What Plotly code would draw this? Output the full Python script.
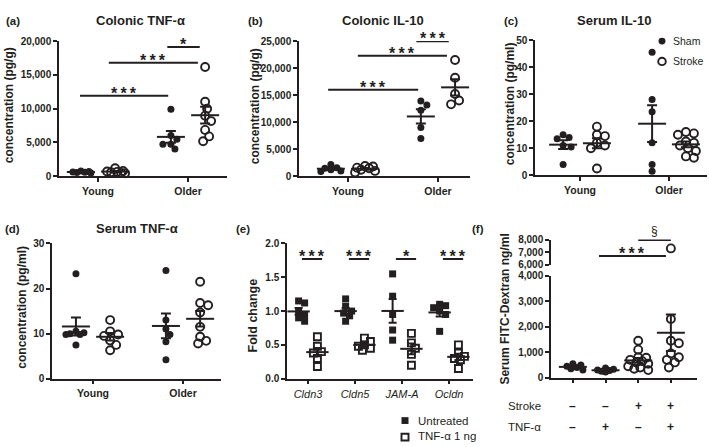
import numpy as np
import plotly.graph_objects as go

W, H = 709, 447
INK = "#231f20"
FONT = "Liberation Sans, Arial, sans-serif"

# ---------------- data ----------------
age_groups = ["Young", "Older"]

# (a) Colonic TNF-alpha, pg/g  [Young, Older]
a_sham = [[800, 720, 650, 600, 550, 500],
          [9930, 6040, 5470, 4750, 4750, 4030]]
a_stroke = [[1200, 800, 700, 650, 600, 500, 450],
            [16160, 11030, 10000, 8970, 8160, 6860, 5900, 5180]]

# (b) Colonic IL-10, pg/g
b_sham = [[2200, 1600, 1500, 1200, 1000, 900],
          [13900, 13200, 12200, 9000, 7000]]
b_stroke = [[1900, 1800, 1600, 1500, 1200, 1000, 700],
            [21500, 18200, 15200, 14000, 13300]]

# (c) Serum IL-10, pg/ml
c_sham = [[15, 14, 13.5, 11, 10.5, 4],
          [45.5, 28, 23.5, 12, 4, 1.5]]
c_stroke = [[18, 15, 14.5, 12, 11, 10, 2.5],
            [16, 15.5, 15, 12.5, 12, 11, 10, 9, 7, 6.5]]

# (d) Serum TNF-alpha, pg/ml
d_sham = [[23.3, 10.5, 10.2, 10, 9.8, 9.8, 7.5],
          [24, 13, 11, 9.8, 8.2, 4.2]]
d_stroke = [[13, 10.5, 9.8, 9.5, 8.5, 7.5, 6.3],
            [21.5, 16.8, 16.3, 14.7, 11.5, 9.3, 8.4, 7.8]]

# (e) Fold change of tight-junction genes
e_genes = ["Cldn3", "Cldn5", "JAM-A", "Ocldn"]
e_untreated = [[1.15, 1.12, 1.0, 0.95, 0.9, 0.85],
               [1.18, 1.07, 1.0, 0.97, 0.93, 0.85],
               [1.55, 1.22, 0.95, 0.72, 0.57],
               [1.1, 1.08, 1.05, 1.0, 0.95, 0.7]]
e_tnf = [[0.62, 0.48, 0.4, 0.38, 0.3, 0.18],
         [0.6, 0.55, 0.5, 0.48, 0.45, 0.42],
         [0.67, 0.53, 0.45, 0.36, 0.2],
         [0.5, 0.38, 0.33, 0.3, 0.28, 0.15]]
e_sig = ["***", "***", "*", "***"]

# (f) Serum FITC-Dextran, ng/ml
f_stroke_signs = ["\u2013", "\u2013", "+", "+"]
f_tnf_signs = ["\u2013", "+", "\u2013", "+"]
f_values = [[550, 500, 450, 400, 350, 300],
            [380, 330, 300, 280, 250, 220],
            [1450, 1100, 800, 780, 700, 650, 600, 550, 450, 400, 350, 300],
            [7300, 2300, 1450, 1350, 950, 800, 700, 600, 400]]
f_filled = [True, True, False, False]


# ---------------- helpers ----------------
def fx(px):
    return px / W


def fy(py):
    return 1 - py / H


fig = go.Figure()
shapes = []
annotations = []


def swarm(vals, sx, sy, d, maxw):
    """Beeswarm offsets (x data units), limited to +-maxw pixels."""
    vals = np.asarray(vals, float)
    order = np.argsort(-vals)
    placed = []
    offs = np.zeros(len(vals))
    cands = [0.0]
    c = 2.0
    while c <= maxw + 1e-9:
        cands += [c, -c]
        c += 2.0
    thr = d * 0.8
    for i in order:
        yp = vals[i] * sy
        best, bestd = 0.0, -1
        chosen = None
        for cc in cands:
            md = min([np.hypot(cc - px, yp - py) for px, py in placed] or [1e9])
            if md >= thr:
                chosen = cc
                break
            if md > bestd:
                best, bestd = cc, md
        if chosen is None:
            chosen = best
        placed.append((chosen, yp))
        offs[i] = chosen / sx
    return offs


def add_group(xa, ya, xc, vals, filled, square, sx, sy, maxw=11, split=None):
    vals = np.asarray(vals, float)
    size = 7 if (square or filled) else 8
    xs = xc + swarm(vals, sx, sy, size + 1, maxw)
    if square:
        sym = "square" if filled else "square-open"
    else:
        sym = "circle" if filled else "circle-open"
    marker = dict(symbol=sym, size=size, color=INK,
                  line=dict(width=0 if filled else 1.9, color=INK))
    if split is None:
        parts = [(ya, xs, vals)]
    else:
        lo = vals <= split[0]
        parts = [(ya, xs[lo], vals[lo]), (split[1], xs[~lo], vals[~lo])]
    for pya, px_, pv in parts:
        fig.add_trace(go.Scatter(
            x=px_, y=pv, mode="markers", marker=marker, xaxis=xa, yaxis=pya,
            cliponaxis=False, hoverinfo="skip", showlegend=False))
    mean = vals.mean()
    sem = vals.std(ddof=1) / np.sqrt(len(vals))
    fig.add_trace(go.Scatter(
        x=[xc], y=[mean], mode="markers", xaxis=xa, yaxis=ya, showlegend=False,
        hoverinfo="skip", cliponaxis=False,
        marker=dict(symbol="line-ew", size=20 if not square else 16, color=INK,
                    line=dict(width=2, color=INK)),
        error_y=dict(type="data", array=[sem], symmetric=True, thickness=2,
                     width=5 if not square else 4, color=INK)))


STARS = "*\u2009*\u2009*"


def sig(xref, yref, x0, x1, y, label, size=16, yshift=-8, bold=True):
    shapes.append(dict(type="line", xref=xref, yref=yref, x0=x0, x1=x1, y0=y, y1=y,
                       line=dict(color=INK, width=2)))
    annotations.append(dict(xref=xref, yref=yref, x=(x0 + x1) / 2, y=y, text=label,
                            showarrow=False, yanchor="bottom", yshift=yshift,
                            font=dict(family=FONT, size=size, color=INK,
                                      weight="bold" if bold else "normal")))


def text(x, y, s, size=12, bold=True, angle=0, xanchor="center"):
    annotations.append(dict(xref="paper", yref="paper", x=fx(x), y=fy(y), text=s,
                            showarrow=False, textangle=angle, xanchor=xanchor,
                            yanchor="middle",
                            font=dict(family=FONT, size=size, color=INK,
                                      weight="bold" if bold else "normal")))


def legend_key(cx, cy, kind, filled, r=3.6):
    shapes.append(dict(type=kind, xref="paper", yref="paper",
                       x0=fx(cx - r), x1=fx(cx + r), y0=fy(cy + r), y1=fy(cy - r),
                       fillcolor=INK if filled else "rgba(0,0,0,0)",
                       line=dict(color=INK, width=0 if filled else 1.9)))


def xcfg(x0, x1, rng, tickvals, ticktext, anchor, italic=False):
    return dict(domain=[fx(x0), fx(x1)], range=rng, anchor=anchor,
                tickmode="array", tickvals=tickvals, ticktext=ticktext,
                showline=True, linecolor=INK, linewidth=1.5, ticks="outside",
                ticklen=4, tickwidth=1.5, tickcolor=INK, showgrid=False,
                zeroline=False, fixedrange=True,
                tickfont=dict(family=FONT, size=11 if italic else 10.5, color=INK,
                              weight="normal" if italic else "bold",
                              style="italic" if italic else "normal"))


def ycfg(ytop, ybot, rng, tickvals, fmt, anchor):
    return dict(domain=[fy(ybot), fy(ytop)], range=rng, anchor=anchor,
                tickmode="array", tickvals=tickvals, tickformat=fmt,
                showline=True, linecolor=INK, linewidth=1.5, ticks="outside",
                ticklen=4, tickwidth=1.5, tickcolor=INK, showgrid=False,
                zeroline=False, fixedrange=True,
                tickfont=dict(family=FONT, size=10, color=INK, weight="bold"))


def scales(x0, x1, xr, ytop, ybot, yr):
    return (x1 - x0) / (xr[1] - xr[0]), (ybot - ytop) / (yr[1] - yr[0])


# ---------------- panel geometry (pixels) ----------------
OFF = 0.19
lay = {}
geo = {
    "a": (59, 227, [-0.433, 1.433], 36, 175, [0, 20000]),
    "b": (299, 470, [-0.544, 1.356], 36, 175, [0, 25000]),
    "c": (535, 707, [-0.506, 1.427], 35, 174, [0, 50]),
    "d": (52, 221, [-0.456, 1.422], 244, 383, [0, 30]),
    "e": (287, 473, [-0.447, 3.51], 244, 383, [0, 2]),
    "f": (551, 697, [-0.67, 3.8], 277, 382, [0, 4000]),
}


def axes(key, xn, yn, xticks, xtext, ytickvals, fmt, italic=False):
    x0, x1, xr, yt, yb, yr = geo[key]
    xs = "" if xn == 1 else str(xn)
    ys = "" if yn == 1 else str(yn)
    lay["xaxis" + xs] = xcfg(x0, x1, xr, xticks, xtext, "y" + ys, italic)
    lay["yaxis" + ys] = ycfg(yt, yb, yr, ytickvals, fmt, "x" + xs)


axes("a", 1, 1, [0, 1], age_groups, [0, 5000, 10000, 15000, 20000], ",d")
axes("b", 2, 2, [0, 1], age_groups, [0, 5000, 10000, 15000, 20000, 25000], ",d")
axes("c", 3, 3, [0, 1], age_groups, [0, 10, 20, 30, 40, 50], "d")
axes("d", 4, 4, [0, 1], age_groups, [0, 10, 20, 30], "d")
axes("e", 5, 5, [0, 1, 2, 3], e_genes, [0, 0.5, 1.0, 1.5, 2.0], ".1f", italic=True)
axes("f", 6, 6, [0, 1, 2, 3], ["", "", "", ""], [0, 1000, 2000, 3000, 4000], ",d")
lay["yaxis7"] = ycfg(240, 266, [6000, 8000], [6000, 7000, 8000], ",d", "x6")

# (a)
sx, sy = scales(*geo["a"])
for i in range(2):
    add_group("x", "y", i - OFF, a_sham[i], True, False, sx, sy)
    add_group("x", "y", i + OFF, a_stroke[i], False, False, sx, sy)
sig("x", "y", -0.2, 0.78, 11900, STARS)
sig("x", "y", 0.12, 1.11, 16800, STARS)
sig("x", "y", 0.77, 1.13, 19100, "*")

# (b)
sx, sy = scales(*geo["b"])
for i in range(2):
    add_group("x2", "y2", i - OFF, b_sham[i], True, False, sx, sy)
    add_group("x2", "y2", i + OFF, b_stroke[i], False, False, sx, sy)
sig("x2", "y2", -0.22, 0.78, 16000, STARS)
sig("x2", "y2", 0.11, 1.10, 22300, STARS)
sig("x2", "y2", 0.76, 1.12, 24950, STARS)

# (c)
sx, sy = scales(*geo["c"])
for i in range(2):
    add_group("x3", "y3", i - OFF, c_sham[i], True, False, sx, sy)
    add_group("x3", "y3", i + OFF, c_stroke[i], False, False, sx, sy)
legend_key(662, 36, "circle", True, r=3.5)
legend_key(662, 57, "circle", False, r=3.8)
text(671, 36, "Sham", size=10.5, bold=False, xanchor="left")
text(671, 57, "Stroke", size=10.5, bold=False, xanchor="left")

# (d)
sx, sy = scales(*geo["d"])
for i in range(2):
    add_group("x4", "y4", i - OFF, d_sham[i], True, False, sx, sy)
    add_group("x4", "y4", i + OFF, d_stroke[i], False, False, sx, sy)

# (e)
sx, sy = scales(*geo["e"])
for i in range(4):
    add_group("x5", "y5", i - 0.2, e_untreated[i], True, True, sx, sy, maxw=7)
    add_group("x5", "y5", i + 0.2, e_tnf[i], False, True, sx, sy, maxw=7)
    sig("x5", "y5", i - 0.13, i + 0.3, 1.77, "\u2009".join(e_sig[i]))
legend_key(405, 426, "rect", True, r=3.5)
legend_key(405, 443, "rect", False, r=3.5)
text(416, 426, "Untreated", size=11.5, bold=False, xanchor="left")
text(416, 442, "TNF-\u03b1 1 ng", size=11.5, bold=False, xanchor="left")

# (f)
sx, sy = scales(*geo["f"])
for i in range(4):
    add_group("x6", "y6", i, f_values[i], f_filled[i], False, sx, sy, maxw=11,
              split=(4000, "y7"))
sig("x6", "y7", 0.8, 2.85, 6700, STARS)
sig("x6", "y7", 2.0, 3.0, 7960, "\u00a7", size=12, yshift=0, bold=False)
for i in range(4):
    for row, signs in ((411, f_stroke_signs), (433, f_tnf_signs)):
        annotations.append(dict(xref="x6", yref="paper", x=i, y=fy(row), text=signs[i],
                                showarrow=False, yanchor="middle", xanchor="center",
                                font=dict(family=FONT, size=12, color=INK, weight="bold")))
text(543, 411, "Stroke", size=11.5, bold=False, xanchor="right")
text(543, 433, "TNF-\u03b1", size=11.5, bold=False, xanchor="right")

# ---------------- titles & labels ----------------
text(13, 15, "(a)", size=11.5)
text(140, 15, "Colonic TNF-\u03b1", size=13)
text(255, 15, "(b)", size=11.5)
text(383, 15, "Colonic IL-10", size=13)
text(511, 15, "(c)", size=11.5)
text(614, 15, "Serum IL-10", size=13)
text(12, 229, "(d)", size=11.5)
text(137, 229, "Serum TNF-\u03b1", size=13)
text(243, 229, "(e)", size=11.5)
text(478, 229, "(f)", size=11.5)

text(9, 102, "concentration (pg/g)", size=12, angle=-90)
text(255, 103, "concentration (pg/g)", size=12, angle=-90)
text(510, 101, "concentration (pg/ml)", size=12, angle=-90)
text(22, 310, "concentration (pg/ml)", size=12, angle=-90)
text(253, 318, "Fold change", size=12.5, angle=-90)
text(505, 312, "Serum FITC-Dextran ng/ml", size=12, angle=-90)

fig.update_layout(
    width=W, height=H, margin=dict(l=0, r=0, t=0, b=0),
    paper_bgcolor="white", plot_bgcolor="white", showlegend=False,
    shapes=shapes, annotations=annotations,
    **lay,
)

fig.write_html(
    "out.html",
    config={"displayModeBar": False},
    post_script="document.body.style.margin='0';document.body.style.padding='0';",
)
